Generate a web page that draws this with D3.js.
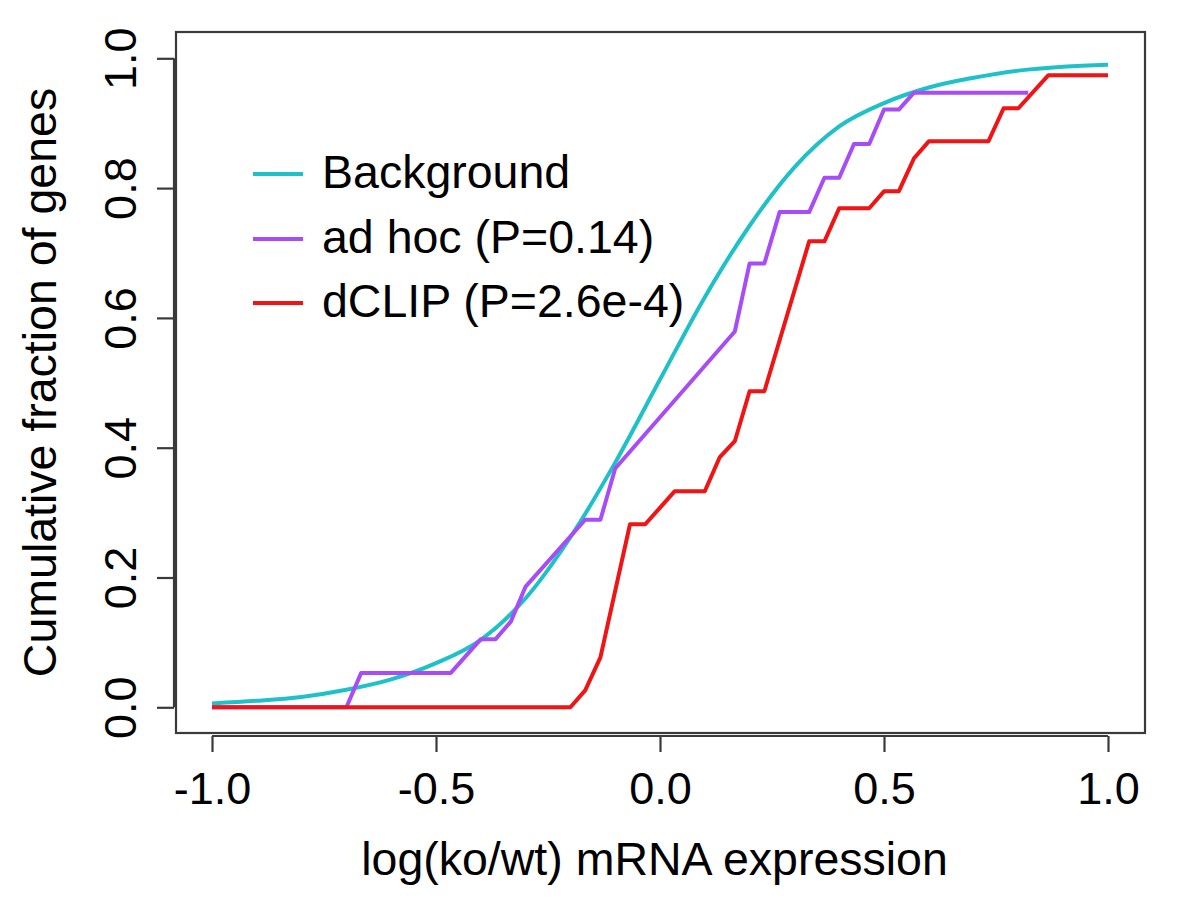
<!DOCTYPE html>
<html>
<head>
<meta charset="utf-8">
<script src="https://cdn.jsdelivr.net/npm/d3@7"></script>
<style>
html,body{margin:0;padding:0;background:#fff;}
svg{display:block;font-family:"Liberation Sans",Arial,Helvetica,sans-serif;}
</style>
</head>
<body>
<svg id="chart" width="1200" height="900"></svg>
<script>
// ---- data ----
const xTicks = [-1.0, -0.5, 0.0, 0.5, 1.0];
const yTicks = [0.0, 0.2, 0.4, 0.6, 0.8, 1.0];
const seriesNames = ["Background", "ad hoc (P=0.14)", "dCLIP (P=2.6e-4)"];
const seriesColors = ["#1fc1c8", "#a84cf6", "#f01414"];

const backgroundX = [-1.0,-0.9,-0.8,-0.7,-0.6,-0.5,-0.4,-0.3,-0.2,-0.1,0.0,0.1,0.2,0.3,0.4,0.5,0.6,0.7,0.8,0.9,1.0];
const backgroundY = [0.006,0.010,0.016,0.027,0.043,0.068,0.104,0.168,0.262,0.377,0.505,0.632,0.742,0.832,0.895,0.931,0.955,0.970,0.981,0.987,0.990];

const adhocX = [-1.0,-0.7,-0.667,-0.467,-0.4,-0.367,-0.333,-0.3,-0.167,-0.133,-0.1,0.167,0.2,0.233,0.267,0.333,0.367,0.4,0.433,0.467,0.5,0.533,0.567,0.822];
const adhocY = [0.0,0.0,0.053,0.053,0.105,0.105,0.132,0.186,0.289,0.289,0.368,0.579,0.684,0.684,0.763,0.763,0.816,0.816,0.868,0.868,0.921,0.921,0.947,0.947];

const dclipX = [-1.0,-0.2,-0.167,-0.133,-0.067,-0.033,0.033,0.1,0.133,0.167,0.2,0.233,0.333,0.367,0.4,0.467,0.5,0.533,0.567,0.6,0.733,0.767,0.8,0.867,1.0];
const dclipY = [0.0,0.0,0.026,0.077,0.282,0.282,0.333,0.333,0.385,0.410,0.487,0.487,0.718,0.718,0.769,0.769,0.795,0.795,0.846,0.872,0.872,0.923,0.923,0.974,0.974];

const xLabel = "log(ko/wt) mRNA expression";
const yLabel = "Cumulative fraction of genes";

// ---- drawing ----
const svg = d3.select("#chart");
const box = {left: 176, right: 1145, top: 32, bottom: 733};
const x = d3.scaleLinear().domain([-1, 1]).range([212, 1108]);
const y = d3.scaleLinear().domain([0, 1]).range([707.3, 58.3]);
const FS_TICK = 45;
const FS_LAB = 46.5;
const FS_LEG = 46.5;
const axisColor = "#3a3a3a";

// box
svg.append("rect")
  .attr("x", box.left).attr("y", box.top)
  .attr("width", box.right - box.left).attr("height", box.bottom - box.top)
  .attr("fill", "none").attr("stroke", axisColor).attr("stroke-width", 2.2);

// x axis
const xAxisG = svg.append("g").attr("transform", `translate(0,${box.bottom + 3})`)
  .call(d3.axisBottom(x).tickValues(xTicks).tickSize(16).tickPadding(20).tickFormat(d3.format(".1f")));
xAxisG.select(".domain").attr("stroke", axisColor).attr("stroke-width", 2.2)
  .attr("d", `M${x(-1)},0H${x(1)}`);
xAxisG.selectAll(".tick line").attr("stroke", axisColor).attr("stroke-width", 2.2);
xAxisG.selectAll(".tick text").attr("font-size", FS_TICK).attr("fill", "#000")
  .attr("font-family", '"Liberation Sans",Arial,sans-serif')
  .text(d => d3.format(".1f")(d).replace("−", "-"));

// y axis
const yAxisG = svg.append("g").attr("transform", `translate(${box.left - 2},0)`)
  .call(d3.axisLeft(y).tickValues(yTicks).tickSize(17).tickFormat(d3.format(".1f")));
yAxisG.select(".domain").attr("stroke", axisColor).attr("stroke-width", 2.2)
  .attr("d", `M0,${y(0)}V${y(1)}`);
yAxisG.selectAll(".tick line").attr("stroke", axisColor).attr("stroke-width", 2.2);
yAxisG.selectAll(".tick text")
  .attr("font-size", FS_TICK).attr("fill", "#000")
  .attr("font-family", '"Liberation Sans",Arial,sans-serif')
  .attr("x", null).attr("dy", null)
  .attr("text-anchor", "middle")
  .attr("transform", "translate(-38,0) rotate(-90)");

// axis titles
svg.append("text")
  .attr("x", (box.left + box.right) / 2 - 6).attr("y", 875)
  .attr("text-anchor", "middle").attr("font-size", FS_LAB).attr("fill", "#000")
  .text(xLabel);
svg.append("text")
  .attr("transform", `translate(56,${(box.top + box.bottom) / 2}) rotate(-90)`)
  .attr("text-anchor", "middle").attr("font-size", FS_LAB).attr("fill", "#000")
  .text(yLabel);

// lines
svg.append("clipPath").attr("id", "plotclip").append("rect")
  .attr("x", box.left).attr("y", box.top)
  .attr("width", box.right - box.left).attr("height", box.bottom - box.top);

const smooth = d3.line().x(d => x(d[0])).y(d => y(d[1])).curve(d3.curveMonotoneX);
const straight = d3.line().x(d => x(d[0])).y(d => y(d[1]));

const series = [
  {xs: backgroundX, ys: backgroundY, gen: smooth},
  {xs: adhocX, ys: adhocY, gen: straight},
  {xs: dclipX, ys: dclipY, gen: straight}
];
const plotG = svg.append("g").attr("clip-path", "url(#plotclip)");
series.forEach((s, i) => {
  const pts = s.xs.map((v, j) => [v, s.ys[j]]);
  plotG.append("path")
    .attr("d", s.gen(pts))
    .attr("fill", "none")
    .attr("stroke", seriesColors[i])
    .attr("stroke-width", 4)
    .attr("stroke-linejoin", "round");
});

// legend
const legendY = [174, 239, 303];
const leg = svg.append("g");
seriesNames.forEach((name, i) => {
  leg.append("line")
    .attr("x1", 253).attr("x2", 303)
    .attr("y1", legendY[i]).attr("y2", legendY[i])
    .attr("stroke", seriesColors[i]).attr("stroke-width", 4);
  leg.append("text")
    .attr("x", 322).attr("y", legendY[i] + 14)
    .attr("font-size", FS_LEG).attr("fill", "#000")
    .text(name);
});
</script>
</body>
</html>
